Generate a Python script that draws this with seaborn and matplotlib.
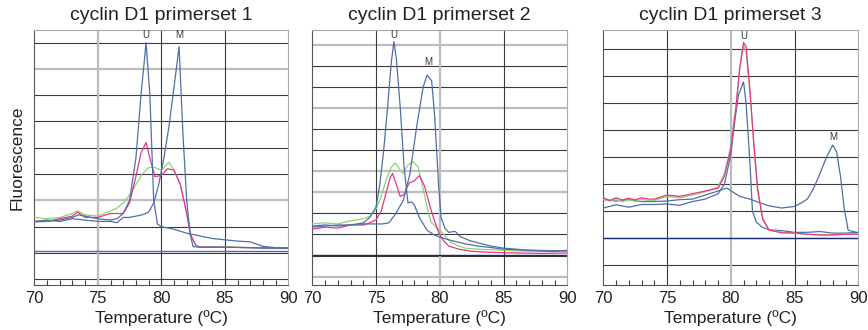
import matplotlib
matplotlib.use("Agg")
import matplotlib.pyplot as plt
import seaborn as sns
import numpy as np
from matplotlib.ticker import MultipleLocator

# ---------------- data ----------------
titles = ["cyclin D1 primerset 1", "cyclin D1 primerset 2", "cyclin D1 primerset 3"]
xticks = [70, 75, 80, 85, 90]

# Panel 1
p1_u_x = [70, 71, 72, 73, 73.5, 74, 75, 76, 76.5, 77, 77.5, 78, 78.4, 78.8, 79.1, 79.4, 79.7, 80, 81, 82, 83, 84, 85, 86, 87, 88, 89, 90]
p1_u_y = [2.18, 2.2, 2.25, 2.35, 2.45, 2.4, 2.3, 2.25, 2.3, 2.5, 3.0, 4.6, 7.0, 9.0, 7.0, 3.0, 2.1, 2.0, 1.9, 1.75, 1.65, 1.55, 1.5, 1.45, 1.42, 1.25, 1.2, 1.2]
p1_m_x = [70, 71, 72, 73, 74, 75, 76, 76.5, 77, 77.5, 78, 78.5, 79, 79.4, 79.8, 80.2, 80.6, 81, 81.4, 81.7, 82, 82.26, 82.5, 83, 85, 87, 88, 90]
p1_m_y = [2.2, 2.25, 2.2, 2.3, 2.25, 2.2, 2.2, 2.15, 2.35, 2.35, 2.4, 2.45, 2.55, 2.9, 3.6, 4.6, 5.8, 7.3, 8.85, 5.56, 3.0, 1.75, 1.24, 1.22, 1.22, 1.2, 1.18, 1.18]
p1_pk_x = [70, 71, 72, 73, 73.4, 74, 75, 76, 77, 77.5, 78, 78.4, 78.8, 79.1, 79.5, 80, 80.5, 81, 81.5, 82, 82.3, 82.7, 83, 85, 87, 90]
p1_pk_y = [2.2, 2.2, 2.3, 2.4, 2.55, 2.35, 2.35, 2.5, 2.5, 2.9, 3.9, 4.8, 5.2, 4.6, 3.9, 3.95, 4.2, 4.15, 3.6, 2.5, 1.7, 1.3, 1.22, 1.22, 1.2, 1.18]
p1_gr_x = [70, 71, 72, 73, 73.4, 74, 75, 76, 76.5, 77, 77.5, 78, 78.5, 79, 79.5, 80, 80.6, 81, 81.5, 82, 82.3, 82.7, 83, 85, 87, 90]
p1_gr_y = [2.35, 2.3, 2.35, 2.5, 2.6, 2.45, 2.4, 2.6, 2.7, 2.9, 3.2, 3.6, 4.0, 4.25, 4.25, 4.15, 4.45, 4.15, 3.6, 2.55, 1.7, 1.3, 1.22, 1.22, 1.2, 1.18]
p1_base = 1.09

# Panel 2
p2_u_x = [70, 71, 72, 73, 74, 74.5, 75, 75.3, 75.6, 75.9, 76.2, 76.4, 76.6, 76.9, 77.2, 77.5, 77.8, 78, 78.4, 79, 79.5, 80, 81, 82, 83, 84, 85, 86, 87, 88, 89, 90]
p2_u_y = [2.4, 2.45, 2.4, 2.45, 2.55, 2.8, 3.3, 4.4, 6.0, 8.0, 10.2, 11.16, 10.3, 8.0, 5.2, 3.5, 3.55, 3.4, 2.8, 2.2, 2.0, 1.87, 1.7, 1.55, 1.45, 1.38, 1.3, 1.28, 1.25, 1.22, 1.2, 1.25]
p2_m_x = [70, 71, 72, 73, 74, 75, 75.5, 76, 76.5, 77.14, 77.66, 78.18, 78.7, 79.0, 79.36, 79.6, 79.9, 80.1, 80.4, 80.7, 81.2, 81.6, 82.3, 83, 84, 85, 87, 90]
p2_m_y = [2.35, 2.4, 2.45, 2.45, 2.5, 2.5, 2.5, 2.55, 2.95, 3.62, 4.89, 7.1, 9.02, 9.57, 9.3, 7.6, 4.4, 2.8, 2.3, 2.1, 2.15, 1.9, 1.72, 1.6, 1.45, 1.35, 1.25, 1.22]
p2_gr_x = [70, 71, 72, 73, 74, 74.5, 75, 75.4, 75.8, 76.2, 76.5, 76.8, 77.1, 77.5, 77.9, 78.3, 78.6, 79, 79.3, 79.7, 80, 80.4, 80.8, 81.5, 82, 83, 85, 87, 90]
p2_gr_y = [2.5, 2.55, 2.5, 2.65, 2.75, 2.85, 3.2, 3.8, 4.6, 5.2, 5.4, 5.15, 4.9, 5.3, 5.45, 5.2, 4.4, 3.3, 2.6, 2.35, 2.2, 1.95, 1.65, 1.45, 1.35, 1.3, 1.25, 1.2, 1.2]
p2_pk_x = [70, 71, 72, 73, 74, 74.5, 75, 75.4, 75.8, 76.1, 76.3, 76.6, 76.9, 77.2, 77.6, 78, 78.4, 78.8, 79.2, 79.5, 79.9, 80.3, 80.7, 81.5, 82.5, 84, 86, 88, 90]
p2_pk_y = [2.25, 2.35, 2.3, 2.45, 2.45, 2.55, 2.7, 3.1, 4.0, 4.7, 4.9, 4.35, 3.8, 3.9, 4.45, 4.55, 4.8, 4.3, 3.4, 2.8, 2.1, 1.7, 1.45, 1.3, 1.2, 1.15, 1.12, 1.1, 1.12]
p2_base = 1.03

# Panel 3
p3_pk_x = [70, 70.5, 71, 71.5, 72, 72.5, 73, 73.5, 74, 75, 76, 77, 78, 79, 79.5, 80, 80.4, 80.7, 81, 81.2, 81.5, 81.8, 82.1, 82.5, 83, 84, 85, 86, 87, 88, 89, 90]
p3_pk_y = [2.5, 2.4, 2.5, 2.42, 2.48, 2.42, 2.5, 2.45, 2.45, 2.6, 2.55, 2.65, 2.75, 2.85, 3.3, 4.3, 5.8, 7.3, 8.25, 8.1, 6.5, 4.5, 2.8, 1.7, 1.3, 1.2, 1.2, 1.15, 1.12, 1.12, 1.15, 1.15]
p3_gr_x = [70, 70.5, 71, 71.5, 72, 72.5, 73, 73.5, 74, 75, 76, 77, 78, 79, 79.5, 80, 80.4, 80.7, 81, 81.2, 81.5, 81.8, 82.1, 82.5, 83, 84, 85, 86, 87, 88, 89, 90]
p3_gr_y = [2.43, 2.38, 2.44, 2.36, 2.42, 2.37, 2.44, 2.4, 2.4, 2.55, 2.5, 2.6, 2.72, 2.9, 3.4, 4.4, 5.9, 7.3, 8.15, 7.9, 6.4, 4.6, 2.9, 1.75, 1.32, 1.22, 1.18, 1.14, 1.14, 1.12, 1.16, 1.16]
p3_u_x = [70, 71, 72, 73, 74, 75, 76, 77, 78, 79, 79.5, 80, 80.3, 80.6, 81, 81.2, 81.5, 81.7, 82, 82.5, 83, 84, 85, 86, 87, 88, 89, 90]
p3_u_y = [2.12, 2.24, 2.15, 2.25, 2.25, 2.27, 2.22, 2.36, 2.45, 2.65, 3.0, 4.1, 5.3, 6.3, 6.79, 6.0, 3.8, 2.0, 1.6, 1.4, 1.32, 1.28, 1.22, 1.22, 1.25, 1.19, 1.19, 1.22]
p3_m_x = [70, 71, 72, 73, 74, 75, 76, 77, 78, 79, 79.7, 80.2, 80.7, 81.5, 82, 83, 84, 85, 85.5, 86, 86.5, 87, 87.5, 88, 88.3, 88.6, 88.9, 89.2, 90]
p3_m_y = [2.43, 2.38, 2.43, 2.36, 2.36, 2.38, 2.43, 2.45, 2.6, 2.75, 2.86, 2.7, 2.55, 2.45, 2.36, 2.2, 2.12, 2.18, 2.3, 2.45, 2.85, 3.4, 4.0, 4.45, 4.2, 3.3, 2.1, 1.3, 1.2]
p3_base = 1.0

# peak labels: (text, x, y)
p1_labels = [("U", 78.75, 9.1), ("M", 81.4, 9.1)]
p2_labels = [("U", 76.4, 11.25), ("M", 79.1, 9.95)]
p3_labels = [("U", 81.0, 8.3), ("M", 88.0, 4.57)]

# ---------------- style ----------------
sns.set_theme(style="white")
plt.rcParams["font.family"] = ["Liberation Sans", "DejaVu Sans"]

BLUE = "#4f6fa8"
PINK = "#e8338f"
GREEN = "#8fd46a"
DARK = "#3a3a3a"
LGREY = "#bdbdbd"

fig = plt.figure(figsize=(8.68, 3.30), dpi=100)
W, H = 868.0, 330.0
top_px, bot_px = 30.0, 285.0
lefts = [34.3, 312.3, 603.3]
rights = [288.3, 567.3, 858.3]

ylims = [(-0.22, 9.48), (-0.40, 11.71), (-0.73, 8.71)]
ngrid = [9, 11, 8]
# which horizontal grid lines (by index from 0) are light grey
hgrey = [{3, 8}, {0, 4, 5, 8, 11}, set()]
vgrey = [{75}, {80}, {80}]

panels = [
    [(p1_gr_x, p1_gr_y, GREEN), (p1_pk_x, p1_pk_y, PINK), (p1_u_x, p1_u_y, BLUE), (p1_m_x, p1_m_y, BLUE)],
    [(p2_gr_x, p2_gr_y, GREEN), (p2_pk_x, p2_pk_y, PINK), (p2_u_x, p2_u_y, BLUE), (p2_m_x, p2_m_y, BLUE)],
    [(p3_u_x, p3_u_y, BLUE), (p3_m_x, p3_m_y, BLUE), (p3_gr_x, p3_gr_y, GREEN), (p3_pk_x, p3_pk_y, PINK)],
]
bases = [p1_base, p2_base, p3_base]
base_colors = ["#5566aa", "#1c2a6e", "#1c2a6e"]
labels = [p1_labels, p2_labels, p3_labels]

for i in range(3):
    ax = fig.add_axes([lefts[i] / W, (H - bot_px) / H, (rights[i] - lefts[i]) / W, (bot_px - top_px) / H])
    ax.set_xlim(70, 90)
    ax.set_ylim(*ylims[i])
    # grid
    for g in range(ngrid[i] + 1):
        c = LGREY if g in hgrey[i] else DARK
        lw = 1.6 if g in hgrey[i] else 0.8
        ax.axhline(g, color=c, lw=lw, zorder=1)
    for v in (75, 80, 85):
        c = LGREY if v in vgrey[i] else DARK
        lw = 1.6 if v in vgrey[i] else 0.8
        ax.axvline(v, color=c, lw=lw, zorder=1)
    ax.axhline(bases[i], color=base_colors[i], lw=1.0, zorder=2)
    for xs, ys, col in panels[i]:
        sns.lineplot(x=xs, y=ys, ax=ax, color=col, lw=0.9, sort=False, estimator=None, zorder=3)
    for txt, tx, ty in labels[i]:
        ax.text(tx, ty, txt, ha="center", va="bottom", fontsize=7, color="#333333", zorder=4)
    ax.set_xticks(xticks)
    ax.xaxis.set_minor_locator(MultipleLocator(1))
    ax.tick_params(axis="x", which="major", direction="in", length=5, width=0.8, color=DARK,
                   labelsize=12, pad=4, labelcolor="#222222")
    ax.tick_params(axis="x", which="minor", direction="in", length=3.5, width=0.8, color=DARK, bottom=True)
    ax.set_yticks([])
    for s in ("left", "bottom"):
        ax.spines[s].set_color("#555555")
        ax.spines[s].set_linewidth(0.8)
    for s in ("top", "right"):
        ax.spines[s].set_color("#aaaaaa")
        ax.spines[s].set_linewidth(0.8)
    ax.set_title(titles[i], fontsize=14, color="#222222", pad=7)
    ax.set_xlabel("Temperature (ºC)", fontsize=12.5, color="#222222", labelpad=3)
    if i == 0:
        ax.set_ylabel("Fluorescence", fontsize=12.5, color="#222222", labelpad=7)
    else:
        ax.set_ylabel("")

fig.savefig("out.png", dpi=100)
